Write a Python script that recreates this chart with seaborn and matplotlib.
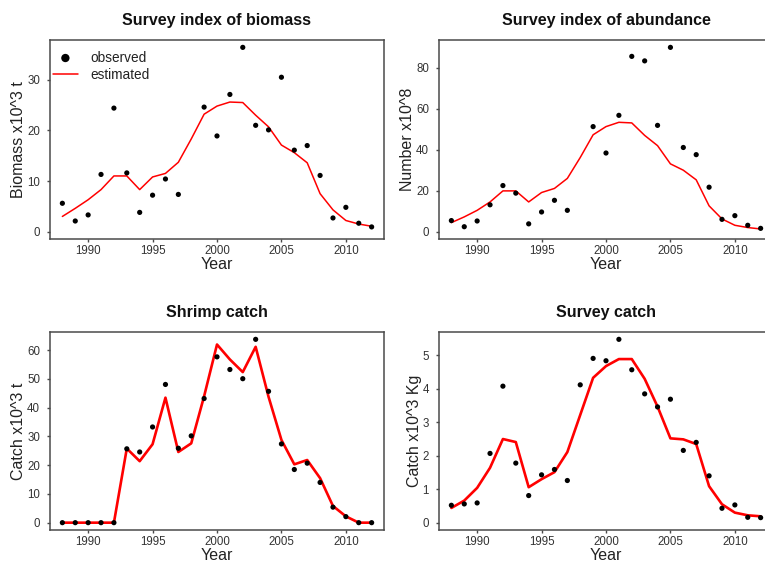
import numpy as np
import pandas as pd
import matplotlib
matplotlib.use("Agg")
import matplotlib.pyplot as plt
from matplotlib.ticker import MultipleLocator
import seaborn as sns

sns.set_style("white")
plt.rcParams["font.family"] = ["Liberation Sans", "DejaVu Sans"]

years = [1988, 1989, 1990, 1991, 1992, 1993, 1994, 1995, 1996, 1997, 1998, 1999,
         2000, 2001, 2002, 2003, 2004, 2005, 2006, 2007, 2008, 2009, 2010, 2011, 2012]
nan = np.nan

# Survey index of biomass (x10^3 t)
biomass_obs = [5.6, 2.1, 3.3, 11.3, 24.4, 11.6, 3.8, 7.2, 10.4, 7.35, nan, 24.6,
               18.9, 27.1, 36.4, 21.0, 20.1, 30.5, 16.1, 17.0, 11.1, 2.7, 4.8, 1.66, 0.93]
biomass_est = [3.0, 4.6, 6.3, 8.3, 11.0, 11.0, 8.3, 10.8, 11.5, 13.7, 18.3, 23.2,
               24.8, 25.6, 25.5, 23.0, 20.7, 17.1, 15.6, 13.6, 7.5, 4.3, 2.2, 1.5, 1.06]

# Survey index of abundance (x10^8)
abund_obs = [5.4, 2.4, 5.2, 13.1, 22.5, 18.8, 3.8, 9.6, 15.3, 10.4, nan, 51.3,
             38.4, 56.8, 85.6, 83.4, 51.9, 90.0, 41.1, 37.6, 21.7, 6.0, 7.8, 3.1, 1.6]
abund_est = [4.4, 7.2, 10.4, 14.5, 19.9, 19.9, 14.5, 19.1, 21.1, 26.0, 36.2, 47.3,
             51.3, 53.4, 53.1, 47.0, 42.0, 33.1, 30.0, 25.3, 12.6, 6.2, 3.1, 2.0, 1.3]

# Shrimp catch (x10^3 t)
shrimp_obs = [0, 0, 0, 0, 0, 25.7, 24.6, 33.3, 48.1, 25.9, 30.2, 43.2,
              57.7, 53.3, 50.1, 63.8, 45.7, 27.4, 18.5, 20.7, 14.0, 5.4, 2.1, 0, 0]
shrimp_est = [0, 0, 0, 0, 0, 25.8, 21.4, 27.3, 43.5, 24.6, 27.6, 44.0,
              62.0, 56.8, 52.4, 61.2, 43.8, 28.8, 20.3, 21.8, 15.5, 5.8, 2.2, 0, 0]

# Survey catch (x10^3 Kg)
survey_obs = [0.52, 0.56, 0.59, 2.07, 4.08, 1.78, 0.81, 1.43, 1.59, 1.26, 4.12, 4.91,
              4.84, 5.48, 4.57, 3.85, 3.46, 3.69, 2.16, 2.40, 1.40, 0.43, 0.53, 0.16, 0.15]
survey_est = [0.44, 0.66, 1.04, 1.64, 2.50, 2.41, 1.06, 1.30, 1.51, 2.11, 3.22, 4.33,
              4.68, 4.89, 4.89, 4.30, 3.47, 2.52, 2.49, 2.35, 1.09, 0.55, 0.30, 0.22, 0.19]

W, H = 765, 565
fig = plt.figure(figsize=(W / 100, H / 100), dpi=100)


def box(x0, y_top, w, h):
    return [x0 / W, (H - y_top - h) / H, w / W, h / H]


FRAME = "#4a4a4a"
TICK_TXT = "#333333"


def panel(rect, obs, est, title, ylabel, ystep, lw, legend=False):
    ax = fig.add_axes(rect)
    df = pd.DataFrame({"Year": years, "observed": obs, "estimated": est})
    sns.lineplot(data=df, x="Year", y="estimated", ax=ax, color="#ff0000",
                 linewidth=lw, label="estimated", legend=False)
    sns.scatterplot(data=df, x="Year", y="observed", ax=ax, color="black",
                    s=14, edgecolor="none", label="observed", legend=False,
                    zorder=3)
    ymax = np.nanmax([np.nanmax(obs), np.nanmax(est)])
    ax.set_ylim(-0.04 * ymax, 1.04 * ymax)
    span = years[-1] - years[0]
    ax.set_xlim(years[0] - 0.04 * span, years[-1] + 0.04 * span)
    ax.xaxis.set_major_locator(MultipleLocator(5))
    ax.yaxis.set_major_locator(MultipleLocator(ystep))
    ax.tick_params(axis="both", length=2.2, width=1.0, color=FRAME,
                   labelsize=8.3, labelcolor=TICK_TXT, bottom=True, left=True)
    ax.tick_params(axis="x", pad=2)
    ax.tick_params(axis="y", pad=5)
    for sp in ax.spines.values():
        sp.set_color(FRAME)
        sp.set_linewidth(1.1)
    ax.set_xlabel("Year", fontsize=11.5, color="#222222", labelpad=0)
    ax.set_ylabel(ylabel, fontsize=11.5, color="#222222", labelpad=0.5)
    ax.set_title(title, fontsize=11.5, fontweight="bold", color="#111111", pad=11)
    if legend:
        handles, labels = ax.get_legend_handles_labels()
        order = [labels.index("observed"), labels.index("estimated")]
        leg = ax.legend([handles[i] for i in order], [labels[i] for i in order],
                        loc="upper left", bbox_to_anchor=(-0.012, 0.981),
                        frameon=False, fontsize=9.8,
                        markerscale=1.6, handlelength=1.85, handletextpad=0.9,
                        labelspacing=0.25, borderaxespad=0.3, borderpad=0.2)
        for t in leg.get_texts():
            t.set_color("#222222")
    return ax


panel(box(50, 40, 334, 199), biomass_obs, biomass_est,
      "Survey index of biomass", "Biomass x10^3 t", 10, 1.1, legend=True)
panel(box(439, 40, 334, 199), abund_obs, abund_est,
      "Survey index of abundance", "Number x10^8", 20, 1.1)
panel(box(50, 332, 334, 198), shrimp_obs, shrimp_est,
      "Shrimp catch", "Catch x10^3 t", 10, 1.9)
panel(box(439, 332, 334, 198), survey_obs, survey_est,
      "Survey catch", "Catch x10^3 Kg", 1, 1.9)

fig.savefig("out.png", dpi=100, facecolor="white")
